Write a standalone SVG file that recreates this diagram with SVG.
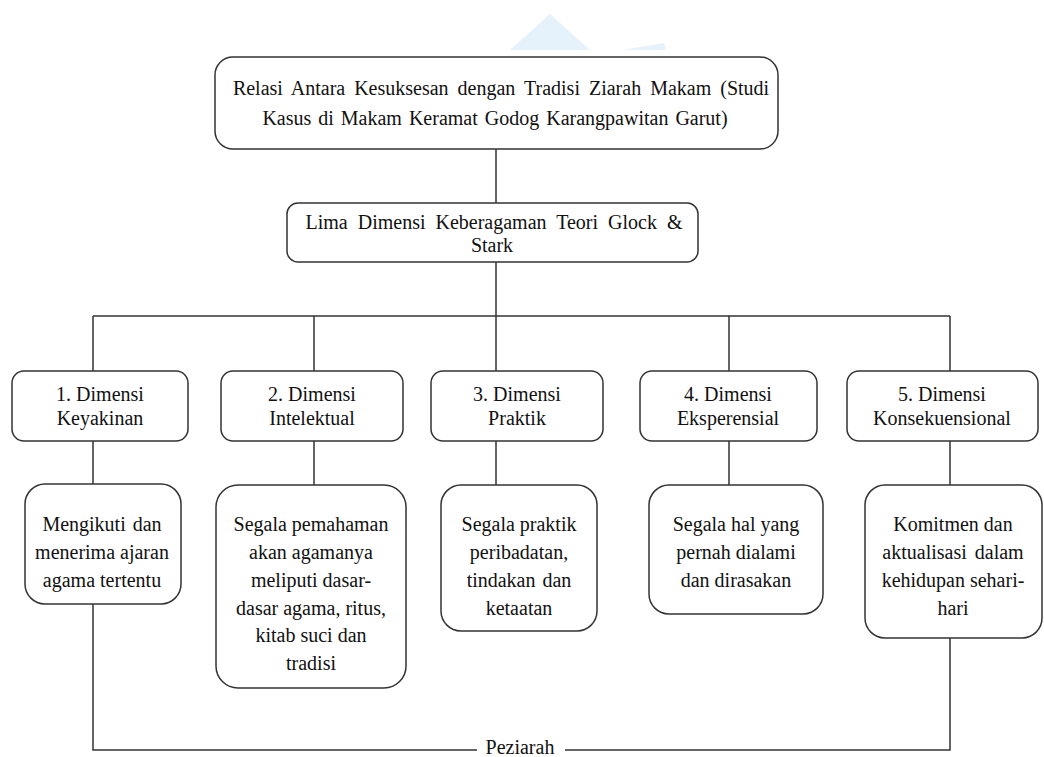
<svg xmlns="http://www.w3.org/2000/svg" width="1044" height="757" viewBox="0 0 1044 757">
<style>
.box{fill:#fff;stroke:#333;stroke-width:1.5}
.t{font-family:"Liberation Serif","Times New Roman",serif;font-size:20px;fill:#111;text-anchor:middle}
.c{fill:none;stroke:#333;stroke-width:1.5}
.wm{fill:#e6f2fb}
</style>
<rect width="1044" height="757" fill="#fff"/>
<g id="watermark">
<polygon class="wm" points="550,14 510,50 590,50"/>
<polygon class="wm" points="622,50 664,43 666,50"/>
</g>
<g id="connectors">
<path class="c" d="M496,149 V203 M496,262 V371 M93,316 H950 M93,316 V371 M314,316 V371 M729,316 V371 M950,316 V371"/>
<path class="c" d="M93,441 V484 M314,441 V485 M496,441 V485 M729,441 V485 M950,441 V485"/>
<path class="c" d="M93,604 V750 H477 M565,750 H950 V638"/>
</g>
<g id="top">
<rect class="box" x="215" y="57" width="563" height="92" rx="18"/>
<text class="t" x="501" y="95" word-spacing="4">Relasi Antara Kesuksesan  dengan Tradisi Ziarah Makam (Studi</text>
<text class="t" x="495" y="125" word-spacing="2">Kasus di Makam Keramat Godog Karangpawitan Garut)</text>
</g>
<g id="lima">
<rect class="box" x="287" y="203" width="411" height="59" rx="11"/>
<text class="t" x="494" y="229" word-spacing="5">Lima Dimensi Keberagaman Teori Glock &amp;</text>
<text class="t" x="492" y="252">Stark</text>
</g>
<g id="d1">
<rect class="box" x="12" y="371" width="176" height="70" rx="12"/>
<text class="t" x="100" y="401">1. Dimensi</text>
<text class="t" x="100" y="425">Keyakinan</text>
</g>
<g id="d2">
<rect class="box" x="221" y="371" width="182" height="70" rx="12"/>
<text class="t" x="312" y="401">2. Dimensi</text>
<text class="t" x="312" y="425">Intelektual</text>
</g>
<g id="d3">
<rect class="box" x="431" y="371" width="172" height="70" rx="12"/>
<text class="t" x="517" y="401">3. Dimensi</text>
<text class="t" x="517" y="425">Praktik</text>
</g>
<g id="d4">
<rect class="box" x="640" y="371" width="177" height="70" rx="12"/>
<text class="t" x="728" y="401">4. Dimensi</text>
<text class="t" x="728" y="425">Eksperensial</text>
</g>
<g id="d5">
<rect class="box" x="847" y="371" width="191" height="70" rx="12"/>
<text class="t" x="942" y="401">5. Dimensi</text>
<text class="t" x="942" y="425">Konsekuensional</text>
</g>
<g id="e1">
<rect class="box" x="25" y="484" width="156" height="120" rx="20"/>
<text class="t" x="102" y="531" word-spacing="2">Mengikuti dan</text>
<text class="t" x="102" y="559">menerima ajaran</text>
<text class="t" x="102" y="587">agama tertentu</text>
</g>
<g id="e2">
<rect class="box" x="216" y="485" width="190" height="203" rx="22"/>
<text class="t" x="311" y="531">Segala pemahaman</text>
<text class="t" x="311" y="559">akan agamanya</text>
<text class="t" x="311" y="587">meliputi dasar-</text>
<text class="t" x="311" y="615">dasar agama, ritus,</text>
<text class="t" x="311" y="642">kitab suci dan</text>
<text class="t" x="311" y="670">tradisi</text>
</g>
<g id="e3">
<rect class="box" x="441" y="485" width="156" height="146" rx="20"/>
<text class="t" x="519" y="531">Segala praktik</text>
<text class="t" x="519" y="559">peribadatan,</text>
<text class="t" x="519" y="587" word-spacing="2">tindakan dan</text>
<text class="t" x="519" y="615">ketaatan</text>
</g>
<g id="e4">
<rect class="box" x="649" y="485" width="174" height="129" rx="20"/>
<text class="t" x="736" y="531">Segala hal yang</text>
<text class="t" x="736" y="559">pernah dialami</text>
<text class="t" x="736" y="587">dan dirasakan</text>
</g>
<g id="e5">
<rect class="box" x="865" y="485" width="177" height="153" rx="20"/>
<text class="t" x="953" y="531">Komitmen dan</text>
<text class="t" x="953" y="559" word-spacing="3">aktualisasi dalam</text>
<text class="t" x="953" y="587">kehidupan sehari-</text>
<text class="t" x="953" y="615">hari</text>
</g>
<g id="peziarah">
<text class="t" x="520" y="754">Peziarah</text>
</g>
</svg>
